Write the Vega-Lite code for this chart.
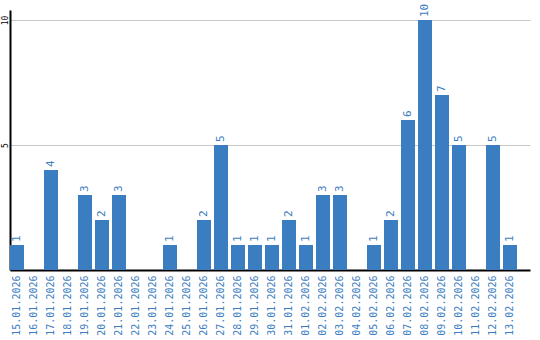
{
  "$schema": "https://vega.github.io/schema/vega-lite/v6.json",
  "autosize": "none",
  "width": 520,
  "height": 260,
  "padding": {"left": 10, "top": 10, "right": 10, "bottom": 70},
  "background": "white",
  "config": {"view": {"stroke": null}},
  "data": {"values": [
    {"date": "15.01.2026", "value": 1},
    {"date": "16.01.2026", "value": 0},
    {"date": "17.01.2026", "value": 4},
    {"date": "18.01.2026", "value": 0},
    {"date": "19.01.2026", "value": 3},
    {"date": "20.01.2026", "value": 2},
    {"date": "21.01.2026", "value": 3},
    {"date": "22.01.2026", "value": 0},
    {"date": "23.01.2026", "value": 0},
    {"date": "24.01.2026", "value": 1},
    {"date": "25.01.2026", "value": 0},
    {"date": "26.01.2026", "value": 2},
    {"date": "27.01.2026", "value": 5},
    {"date": "28.01.2026", "value": 1},
    {"date": "29.01.2026", "value": 1},
    {"date": "30.01.2026", "value": 1},
    {"date": "31.01.2026", "value": 2},
    {"date": "01.02.2026", "value": 1},
    {"date": "02.02.2026", "value": 3},
    {"date": "03.02.2026", "value": 3},
    {"date": "04.02.2026", "value": 0},
    {"date": "05.02.2026", "value": 1},
    {"date": "06.02.2026", "value": 2},
    {"date": "07.02.2026", "value": 6},
    {"date": "08.02.2026", "value": 10},
    {"date": "09.02.2026", "value": 7},
    {"date": "10.02.2026", "value": 5},
    {"date": "11.02.2026", "value": 0},
    {"date": "12.02.2026", "value": 5},
    {"date": "13.02.2026", "value": 1}
  ]},
  "encoding": {
    "x": {
      "field": "date", "type": "ordinal", "sort": null, "title": null,
      "scale": {"paddingInner": 0.176, "paddingOuter": 0.382, "align": 0},
      "axis": {"labelAngle": -90, "labelColor": "#3b7dc1", "labelFont": "DejaVu Sans Mono", "labelFontSize": 10,
               "labelPadding": 5, "ticks": false, "domainColor": "#000000", "domainWidth": 2, "grid": false}
    },
    "y": {
      "field": "value", "type": "quantitative", "title": null,
      "scale": {"domain": [0, 10.4], "nice": false},
      "axis": {"values": [5, 10], "labelAngle": -90, "labelAlign": "center", "labelBaseline": "bottom",
               "labelFont": "DejaVu Sans Mono", "labelFontSize": 8, "labelColor": "#000000", "labelPadding": 1,
               "ticks": false, "domainColor": "#000000", "domainWidth": 2,
               "grid": true, "gridColor": "#c8c8c8", "gridWidth": 1}
    }
  },
  "layer": [
    {"mark": {"type": "bar", "color": "#3b7dc1"}},
    {
      "transform": [{"filter": "datum.value > 0"}],
      "mark": {"type": "text", "angle": -90, "align": "left", "baseline": "middle", "dx": 3,
               "font": "DejaVu Sans Mono", "fontSize": 11, "color": "#3b7dc1"},
      "encoding": {"text": {"field": "value", "type": "quantitative"}}
    }
  ]
}
